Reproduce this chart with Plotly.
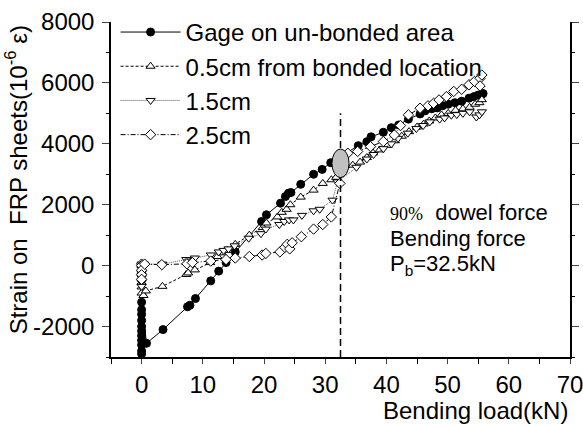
import plotly.graph_objects as go

# ---------------- data ----------------
s1_name = "Gage on un-bonded area"
s1_x = [0.0, 0.0, 0.0, 0.0, 0.0, 0.0, 0.0, 0.0, 0.0, 0.0, 0.0, 0.8, 3.5, 7.5, 7.9, 8.8, 11.3, 12.6, 13.8, 15.3,
        19.6, 20.4, 22.7, 23.5, 24.0, 24.4, 26.0, 28.1, 29.5, 30.9,
        35.4, 36.8, 37.5, 39.5, 40.8, 42.0, 43.6, 45.5, 46.3, 47.4, 48.3, 49.2, 50.1, 51.2, 52.3,
        53.5, 54.3, 55.0, 55.5, 55.8]
s1_y = [-2900, -2800, -2600, -2450, -2300, -2150, -2000, -1800, -1600, -1450, -1200, -2550, -2100, -1350, -1300, -1080, -500, -180, 100, 450,
        1450, 1670, 2050, 2270, 2380, 2400, 2670, 3000, 3160, 3380,
        3940, 4070, 4230, 4380, 4530, 4620, 4810, 4980, 5080, 5150, 5180, 5250, 5300, 5350, 5400,
        5500, 5550, 5600, 5620, 5650]

s2_name = "0.5cm from bonded location"
s2_x = [0.0, 0.0, 0.0, 0.0, 0.0, 0.0, 0.3, 0.7, 3.4, 7.3, 7.6, 8.7, 11.2, 12.4, 13.1, 14.0, 15.3, 17.6,
        19.8, 20.4, 22.2, 22.9, 23.7, 24.3, 26.0, 28.1, 29.6, 31.0, 31.8,
        34.5, 35.7, 36.8, 37.8, 38.9, 40.2, 41.4, 42.5, 43.7, 45.0, 46.1, 47.0, 48.0, 49.0, 50.1,
        51.3, 52.5, 53.6, 54.5, 55.2, 55.6]
s2_y = [0, -200, -400, -550, -700, -900, -980, -830, -680, -290, -240, -140, 100, 300, 420, 500, 700, 1000,
        1250, 1400, 1600, 1750, 1850, 2000, 2250, 2480, 2700, 2820, 2900,
        3300, 3400, 3550, 3700, 3800, 3950, 4100, 4250, 4400, 4550, 4650, 4750, 4850, 4950, 5000,
        5100, 5150, 5200, 5300, 5350, 5450]

s3_name = "1.5cm"
s3_x = [0.0, 0.0, 0.0, 0.0, 0.0, 0.0, 0.0, 0.4, 3.4, 7.3, 7.8, 8.7, 11.3, 12.6, 13.4, 14.2, 15.2, 17.5,
        19.5, 20.3, 22.5, 23.3, 24.1, 24.8, 26.2, 28.1, 29.1, 31.2, 32.0,
        35.1, 36.8, 37.9, 39.5, 40.8, 41.9, 43.5, 44.9, 46.0, 47.1, 48.7, 49.5, 50.6, 51.5, 52.5,
        53.6, 54.7, 55.2, 55.6]
s3_y = [50, 0, -100, -250, -400, -550, -680, 50, 50, 200, 150, 250, 350, 450, 500, 550, 650, 900,
        1050, 1200, 1350, 1450, 1500, 1500, 1650, 1800, 1850, 2150, 2750,
        3230, 3500, 3650, 3840, 4000, 4180, 4350, 4500, 4600, 4720, 4810, 4850, 4940, 4960, 5000,
        5050, 4880, 4950, 5050]

s4_name = "2.5cm"
s4_x = [0.0, 0.0, 0.0, 0.0, 0.0, 0.5, 3.3, 7.4, 8.3, 11.3, 13.8, 15.3, 17.6, 19.7, 20.3, 22.6, 23.4,
        23.8, 24.2, 24.6, 26.1, 28.1, 29.6, 31.0, 32.4,
        33.7, 35.3, 37.4, 39.5, 41.3, 42.3, 43.6, 45.5, 46.8, 47.7, 48.6, 49.8, 51.0, 52.3, 53.5,
        54.4, 55.3, 55.6, 55.3]
s4_y = [50, 0, -150, -300, -450, 50, 30, 60, 100, 150, 200, 250, 300, 350, 400, 450, 600,
        700, 550, 750, 950, 1200, 1350, 1600, 2700,
        3690, 3750, 3910, 4075, 4290, 4600, 4950, 5170, 5250, 5330, 5440, 5550, 5720, 5790, 5940,
        6050, 6150, 6260, 5900]

PB = 32.5          # bending force (kN)
ELLIPSE_Y = 3360   # strain at the marked point
X_RANGE = [-5, 70]
Y_RANGE = [-3000, 8000]
X_TICKS = [0, 10, 20, 30, 40, 50, 60, 70]
X_TICK_LABELS = ["0", "10", "20", "30", "40", "50", "60", "70"]
Y_TICKS = [-2000, 0, 2000, 4000, 6000, 8000]
Y_TICK_LABELS = ["-2000", "0", "2000", "4000", "6000", "8000"]

FONT = "Liberation Sans, Arial, sans-serif"

fig = go.Figure()

def add(name, xs, ys, symbol, dash, lcolor):
    fig.add_trace(go.Scatter(
        x=xs, y=ys, name=name, mode="lines+markers",
        line=dict(color=lcolor, width=1, dash=dash),
        marker=dict(symbol=symbol, size=8, color="white" if symbol != "circle" else "black",
                    line=dict(color="black", width=1)),
    ))

add(s1_name, s1_x, s1_y, "circle", "solid", "black")
add(s2_name, s2_x, s2_y, "triangle-up", "3px,2px", "black")
add(s3_name, s3_x, s3_y, "triangle-down", "1px,1px", "#555")
add(s4_name, s4_x, s4_y, "diamond", "5px,2px,1px,2px", "black")

# vertical dashed line at Pb
fig.add_shape(type="line", xref="x", yref="y", x0=PB, x1=PB, y0=Y_RANGE[0], y1=5000,
              line=dict(color="black", width=1.5, dash="7px,4px"))
# grey ellipse
fig.add_shape(type="circle", xref="x", yref="y", x0=PB - 1.4, x1=PB + 1.4,
              y0=ELLIPSE_Y - 470, y1=ELLIPSE_Y + 470,
              fillcolor="#c0c0c0", line=dict(color="black", width=1))

# text annotations
fig.add_annotation(x=0.603, y=0.43, xref="paper", yref="paper", xanchor="left", yanchor="middle",
                   text="<span style='font-family:Liberation Serif,Times New Roman,serif;font-size:18px'>90%</span>  dowel force",
                   showarrow=False, font=dict(family=FONT, size=22, color="black"))
fig.add_annotation(x=0.603, y=0.355, xref="paper", yref="paper", xanchor="left", yanchor="middle",
                   text="Bending force", showarrow=False, font=dict(family=FONT, size=22, color="black"))
fig.add_annotation(x=0.603, y=0.275, xref="paper", yref="paper", xanchor="left", yanchor="middle",
                   text="P<sub>b</sub>=32.5kN", showarrow=False, font=dict(family=FONT, size=22, color="black"))

# axis titles
fig.add_annotation(x=1.0, y=-0.16, xref="paper", yref="paper", xanchor="right", yanchor="middle",
                   text="Bending load(kN)", showarrow=False, font=dict(family=FONT, size=24, color="black"))
fig.add_annotation(x=-0.205, y=0.53, xref="paper", yref="paper", xanchor="center", yanchor="middle",
                   text="Strain on  FRP sheets(10<sup>-6</sup> ε)", textangle=-90, showarrow=False,
                   font=dict(family=FONT, size=24, color="black"))

fig.update_layout(
    width=583, height=426,
    margin=dict(l=111, r=13, t=22, b=69, autoexpand=False),
    paper_bgcolor="white", plot_bgcolor="white",
    font=dict(family=FONT, size=24, color="black"),
    showlegend=True,
    legend=dict(x=0.01, y=1.036, xanchor="left", yanchor="top", bgcolor="rgba(0,0,0,0)",
                font=dict(family=FONT, size=24, color="black"), itemwidth=60,
                tracegroupgap=0),
)
fig.update_xaxes(range=X_RANGE, tickvals=X_TICKS, ticktext=X_TICK_LABELS, ticks="outside", ticklen=5, tickwidth=1,
                 showline=True, linecolor="black", linewidth=1.5, showgrid=False, zeroline=False,
                 mirror=False, ticklabelstandoff=0, automargin=False, ticklabeloverflow="allow",
                 minor=dict(ticks="outside", dtick=5, tick0=0, ticklen=5, tickcolor="black"),
                 tickfont=dict(size=24))
fig.update_yaxes(range=Y_RANGE, tickvals=Y_TICKS, ticktext=Y_TICK_LABELS, ticks="outside", ticklen=7, tickwidth=1,
                 showline=True, linecolor="black", linewidth=1.5, showgrid=False, zeroline=False,
                 mirror="ticks", ticklabelstandoff=3, automargin=False, ticklabeloverflow="allow",
                 minor=dict(ticks="outside", dtick=1000, tick0=0, ticklen=3, tickcolor="black"),
                 tickfont=dict(size=24))

fig.write_html("out.html")
